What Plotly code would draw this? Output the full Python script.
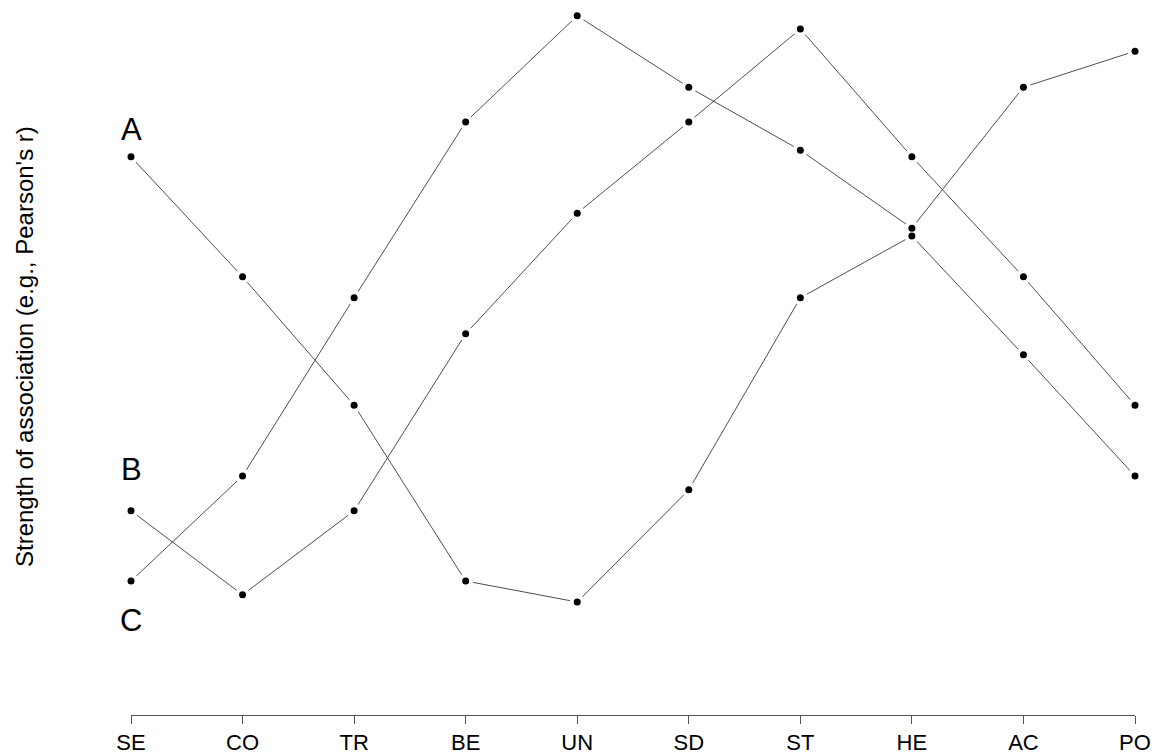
import plotly.graph_objects as go

categories = ["SE", "CO", "TR", "BE", "UN", "SD", "ST", "HE", "AC", "PO"]
series_names = ["A", "B", "C"]
series_a = [0.772, 0.572, 0.358, 0.065, 0.030, 0.217, 0.537, 0.640, 0.442, 0.240]
series_b = [0.182, 0.042, 0.182, 0.477, 0.678, 0.830, 0.985, 0.772, 0.572, 0.358]
series_c = [0.065, 0.240, 0.537, 0.830, 1.007, 0.888, 0.783, 0.653, 0.888, 0.948]
all_series = [series_a, series_b, series_c]

FONT = "Liberation Sans, Arial, sans-serif"
fig = go.Figure()

# connecting lines
for vals in all_series:
    fig.add_trace(go.Scatter(x=categories, y=vals, mode="lines",
                             line=dict(color="#3a3a3a", width=0.9),
                             hoverinfo="skip", showlegend=False, cliponaxis=False))
# white halos to leave small gaps around points (like R type="b")
for vals in all_series:
    fig.add_trace(go.Scatter(x=categories, y=vals, mode="markers",
                             marker=dict(color="white", size=15, line=dict(width=0)),
                             hoverinfo="skip", showlegend=False, cliponaxis=False))
# points
for name, vals in zip(series_names, all_series):
    fig.add_trace(go.Scatter(x=categories, y=vals, mode="markers", name=name,
                             marker=dict(color="black", size=7, line=dict(width=0)),
                             showlegend=False, cliponaxis=False))

label_shift = {"A": 27, "B": 41, "C": -39}
for name, vals in zip(series_names, all_series):
    fig.add_annotation(x=categories[0], y=vals[0], xref="x", yref="y",
                       text=name, showarrow=False, yshift=label_shift[name],
                       font=dict(family=FONT, size=31, color="black"),
                       xanchor="center", yanchor="middle")

fig.add_annotation(x=0, y=0.522, xref="paper", yref="paper", xshift=-106,
                   text="Strength of association (e.g., Pearson's r)",
                   textangle=-90, showarrow=False,
                   font=dict(family=FONT, size=24, color="black"),
                   xanchor="center", yanchor="middle")

fig.update_layout(
    width=1157, height=755,
    margin=dict(l=131, r=22, t=10, b=40, autoexpand=False),
    paper_bgcolor="white", plot_bgcolor="white",
    xaxis=dict(type="category", range=[0, 9], showgrid=False, zeroline=False,
               automargin=False,
               showline=True, linecolor="#555555", linewidth=1,
               ticks="outside", ticklen=8, tickcolor="#555555", tickwidth=1,
               tickfont=dict(family=FONT, size=22, color="black")),
    yaxis=dict(range=[-0.15833, 1.01667], visible=False, automargin=False),
)

fig.write_html("out.html", config={"displayModeBar": False},
               post_script="document.body.style.margin='0';document.body.style.overflow='hidden';")
